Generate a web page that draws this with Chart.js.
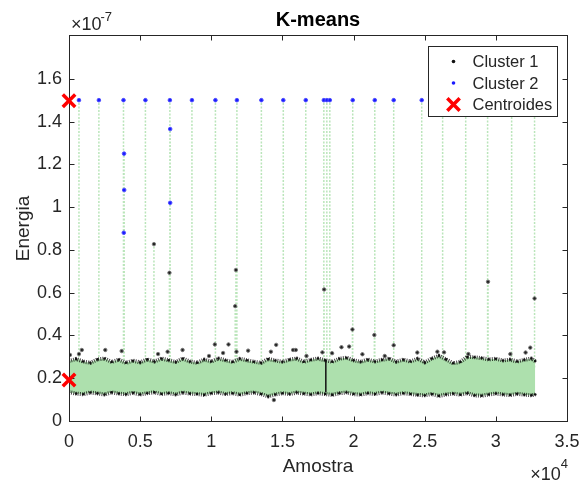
<!DOCTYPE html>
<html>
<head>
<meta charset="utf-8">
<title>K-means</title>
<script src="https://cdn.jsdelivr.net/npm/chart.js@4.4.1/dist/chart.umd.min.js"></script>
<style>
  html, body { margin: 0; padding: 0; background: #fff; }
  #wrap { width: 584px; height: 486px; }
</style>
</head>
<body>
<div id="wrap"><canvas id="c" width="584" height="486"></canvas></div>
<script>
// Energy per sample (units of 1e-7). The bulk of the signal is a dense band,
// kept here as its upper and lower envelope along the sample axis.
const bandSamples = [
  0, 500, 1000, 1500, 2000, 2500, 3000, 3500, 4000, 4500,
  5000, 5500, 6000, 6500, 7000, 7500, 8000, 8500, 9000, 9500,
  10000, 10500, 11000, 11500, 12000, 12500, 13000, 13500, 14000, 14500,
  15000, 15500, 16000, 16500, 17000, 17500, 18000, 18500, 19000, 19500,
  20000, 20500, 21000, 21500, 22000, 22500, 23000, 23500, 24000, 24500,
  25000, 25500, 26000, 26500, 27000, 27500, 28000, 28500, 29000, 29500,
  30000, 30500, 31000, 31500, 32000, 32500, 32768
];
const bandUpper = [
  0.28, 0.29, 0.278, 0.272, 0.288, 0.292, 0.276, 0.287, 0.272, 0.282,
  0.274, 0.288, 0.278, 0.292, 0.284, 0.276, 0.292, 0.278, 0.272, 0.287,
  0.278, 0.292, 0.284, 0.276, 0.291, 0.284, 0.277, 0.272, 0.29, 0.283,
  0.277, 0.287, 0.292, 0.277, 0.286, 0.292, 0.284, 0.277, 0.291, 0.296,
  0.284, 0.277, 0.287, 0.278, 0.286, 0.292, 0.277, 0.287, 0.278, 0.291,
  0.274, 0.292, 0.305, 0.288, 0.27, 0.276, 0.30, 0.298, 0.294, 0.288,
  0.291, 0.283, 0.287, 0.278, 0.286, 0.292, 0.28
];
const bandLower = [
  0.135, 0.128, 0.125, 0.133, 0.129, 0.124, 0.134, 0.128, 0.125, 0.132,
  0.124, 0.13, 0.134, 0.126, 0.13, 0.124, 0.133, 0.128, 0.126, 0.122,
  0.13, 0.133, 0.126, 0.13, 0.123, 0.13, 0.133, 0.126, 0.115, 0.124,
  0.13, 0.126, 0.133, 0.128, 0.124, 0.13, 0.126, 0.122, 0.13, 0.133,
  0.126, 0.123, 0.13, 0.126, 0.133, 0.128, 0.124, 0.13, 0.126, 0.122,
  0.12, 0.126, 0.117, 0.124, 0.128, 0.123, 0.13, 0.12, 0.118, 0.124,
  0.128, 0.124, 0.121, 0.127, 0.123, 0.12, 0.124
];

// A tight column of samples around n = 18050
const denseSample = 18050;
const denseRange = [0.135, 0.285];

// Cluster 1: isolated samples standing out of the band
const cluster1X = [
  5970, 7060, 11730, 11680, 17930, 29450, 32720, 19920, 21460, 22820,
  10250, 11210, 14560, 70, 700, 900, 2550, 3700, 6260, 6930,
  7980, 9840, 10830, 11770, 12590, 14190, 15750, 15940, 16690, 17810,
  18490, 19150, 19690, 20620, 22190, 24480, 25890, 26360, 28070, 31020,
  32090, 32420, 14400
];
const cluster1Y = [
  0.827, 0.693, 0.706, 0.537, 0.615, 0.651, 0.573, 0.428, 0.402, 0.354,
  0.358, 0.358, 0.356, 0.309, 0.313, 0.332, 0.332, 0.327, 0.313, 0.324,
  0.332, 0.304, 0.318, 0.324, 0.329, 0.324, 0.332, 0.332, 0.304, 0.321,
  0.317, 0.345, 0.348, 0.312, 0.304, 0.320, 0.324, 0.321, 0.313, 0.313,
  0.320, 0.343, 0.098
];

// Cluster 2: high-energy samples
const cluster2X = [
  700, 2100, 3830, 5370, 7090, 8640, 10290, 11800, 13520, 15060,
  16640, 17910, 18120, 18330, 19940, 21490, 22820, 24790, 26260, 27880,
  29420, 31110, 32720, 3870, 3880, 3850, 7110, 7110
];
const cluster2Y = [
  1.5, 1.5, 1.5, 1.5, 1.5, 1.5, 1.5, 1.5, 1.5, 1.5,
  1.5, 1.5, 1.5, 1.5, 1.5, 1.5, 1.5, 1.5, 1.5, 1.5,
  1.5, 1.5, 1.5, 1.25, 1.08, 0.88, 1.365, 1.02
];

// Cluster centres, placed on the first sample
const centroidX = [0, 0];
const centroidY = [0.192, 1.497];

// Axes
const xTicks = [0, 5000, 10000, 15000, 20000, 25000, 30000, 35000];
const yTicks = [0, 0.2, 0.4, 0.6, 0.8, 1.0, 1.2, 1.4, 1.6];
const legendLabels = ['Cluster 1', 'Cluster 2', 'Centroides'];

// Baseline from which the signal trace rises to each isolated sample
const traceBase = 0.25;

const FONT = "'Liberation Sans', Arial, Helvetica, sans-serif";
const INK = '#262626';
const GREEN = '#ade0ad';

const pts = (xs, ys) => xs.map((x, i) => ({ x, y: ys[i] }));

// The connecting trace jumps from the band up to every isolated sample
const spikeData = [];
cluster2X.forEach((x, i) => {
  spikeData.push({ x, y: traceBase }, { x, y: cluster2Y[i] }, { x, y: null });
});
cluster1X.forEach((x, i) => {
  if (cluster1Y[i] > 0.4) {
    spikeData.push({ x, y: traceBase }, { x, y: cluster1Y[i] }, { x, y: null });
  }
});

// Box around the plot with inward tick marks on all four sides
function drawFrame(chart) {
  const { ctx, chartArea: a, scales: { x, y } } = chart;
  const L = Math.round(a.left) + 0.5, R = Math.round(a.right) + 0.5;
  const T = Math.round(a.top) - 0.5, B = Math.round(a.bottom) + 0.5;
  ctx.save();
  ctx.strokeStyle = INK;
  ctx.lineWidth = 1;
  ctx.strokeRect(L, T, R - L, B - T);
  ctx.beginPath();
  x.ticks.forEach(t => {
    const px = Math.round(x.getPixelForValue(t.value)) + 0.5;
    ctx.moveTo(px, B); ctx.lineTo(px, B - 5);
    ctx.moveTo(px, T); ctx.lineTo(px, T + 5);
  });
  y.ticks.forEach(t => {
    const py = Math.round(y.getPixelForValue(t.value)) + 0.5;
    ctx.moveTo(L, py); ctx.lineTo(L + 5, py);
    ctx.moveTo(R, py); ctx.lineTo(R - 5, py);
  });
  ctx.stroke();
  ctx.restore();
}

const framePlugin = {
  id: 'frame',
  beforeDatasetDraw(chart, args) {
    if (args.index === 0) drawFrame(chart);
  }
};

// Inset legend box and the axis exponent labels
const overlayPlugin = {
  id: 'overlay',
  afterDraw(chart) {
    const { ctx, chartArea: a } = chart;
    ctx.save();
    // exponent labels
    ctx.fillStyle = INK;
    ctx.textBaseline = 'alphabetic';
    ctx.textAlign = 'left';
    ctx.font = `18px ${FONT}`;
    const base = '\u00d710';
    const wBase = ctx.measureText(base).width;
    ctx.fillText(base, a.left + 2, a.top - 6);
    ctx.font = `13px ${FONT}`;
    ctx.fillText('-7', a.left + 2 + wBase - 1, a.top - 15);
    ctx.font = `13px ${FONT}`;
    const wSup = ctx.measureText('4').width;
    ctx.font = `18px ${FONT}`;
    const xr = a.right - wSup - wBase + 1;
    ctx.fillText(base, xr, a.bottom + 59);
    ctx.font = `13px ${FONT}`;
    ctx.fillText('4', xr + wBase, a.bottom + 47);

    // legend
    const boxW = 129, boxH = 70;
    const bx = Math.round(a.right - 10 - boxW) + 0.5;
    const by = Math.round(a.top + 10) + 0.5;
    ctx.fillStyle = '#fff';
    ctx.fillRect(bx, by, boxW, boxH);
    ctx.strokeStyle = INK;
    ctx.lineWidth = 1;
    ctx.strokeRect(bx, by, boxW, boxH);
    const mx = bx + 25, tx = bx + 44;
    const rows = [by + 15, by + 36.5, by + 58];
    // markers
    ctx.fillStyle = '#111';
    ctx.beginPath(); ctx.arc(mx, rows[0], 1.8, 0, Math.PI * 2); ctx.fill();
    ctx.fillStyle = '#1a1aff';
    ctx.beginPath(); ctx.arc(mx, rows[1], 1.8, 0, Math.PI * 2); ctx.fill();
    ctx.strokeStyle = '#ff0000';
    ctx.lineWidth = 3.5;
    ctx.beginPath();
    ctx.moveTo(mx - 6.2, rows[2] - 6.2); ctx.lineTo(mx + 6.2, rows[2] + 6.2);
    ctx.moveTo(mx + 6.2, rows[2] - 6.2); ctx.lineTo(mx - 6.2, rows[2] + 6.2);
    ctx.stroke();
    // labels
    ctx.fillStyle = INK;
    ctx.font = `16.5px ${FONT}`;
    ctx.textBaseline = 'middle';
    legendLabels.forEach((t, i) => ctx.fillText(t, tx, rows[i] + 1));
    ctx.restore();
  }
};

new Chart(document.getElementById('c'), {
  type: 'scatter',
  data: {
    datasets: [
      {
        label: 'Centroides',
        data: pts(centroidX, centroidY),
        pointStyle: 'crossRot',
        pointRadius: 8.8,
        pointBorderWidth: 3.5,
        borderColor: '#ff0000',
        backgroundColor: '#ff0000',
        clip: false,
        order: 1
      },
      {
        label: 'Cluster 2',
        data: pts(cluster2X, cluster2Y),
        pointRadius: 1.8,
        pointBorderWidth: 1,
        backgroundColor: '#1a1aff',
        borderColor: '#5050ff',
        order: 2
      },
      {
        label: 'Cluster 1',
        data: pts(cluster1X, cluster1Y),
        pointRadius: 1.7,
        pointBorderWidth: 1,
        backgroundColor: '#222',
        borderColor: '#777',
        order: 3
      },
      {
        label: 'dense column',
        type: 'line',
        data: [{ x: denseSample, y: denseRange[0] }, { x: denseSample, y: denseRange[1] }],
        borderColor: '#111',
        borderWidth: 1.5,
        pointRadius: 0,
        order: 4
      },
      {
        label: 'band lower',
        type: 'line',
        data: pts(bandSamples, bandLower),
        borderColor: 'rgba(15,15,15,0.75)',
        borderWidth: 4,
        borderDash: [1, 1.2],
        pointRadius: 1.3,
        pointBorderWidth: 0,
        pointBackgroundColor: '#111',
        tension: 0,
        fill: false,
        order: 6
      },
      {
        label: 'band upper',
        type: 'line',
        data: pts(bandSamples, bandUpper),
        borderColor: 'rgba(15,15,15,0.75)',
        borderWidth: 4,
        borderDash: [1, 1.2],
        pointRadius: 1.3,
        pointBorderWidth: 0,
        pointBackgroundColor: '#111',
        backgroundColor: GREEN,
        tension: 0,
        fill: '-1',
        order: 7
      },
      {
        label: 'trace',
        type: 'line',
        data: spikeData,
        borderColor: 'rgba(140,212,140,0.6)',
        borderWidth: 1.5,
        borderDash: [2, 1.5],
        pointRadius: 0,
        spanGaps: false,
        fill: false,
        order: 9
      }
    ]
  },
  options: {
    responsive: false,
    animation: false,
    devicePixelRatio: 1,
    events: [],
    layout: { padding: { left: 0, right: 17, top: 0, bottom: 0 } },
    plugins: {
      legend: { display: false },
      tooltip: { enabled: false },
      title: {
        display: true,
        text: 'K-means',
        fullSize: false,
        color: '#000',
        font: { family: FONT, size: 20, weight: 'bold' },
        padding: { top: 8, bottom: 4 }
      }
    },
    scales: {
      x: {
        type: 'linear',
        min: 0,
        max: 35000,
        afterFit(s) { s.height = 65; s.paddingLeft = 0; s.paddingRight = 0; },
        afterBuildTicks(s) { s.ticks = xTicks.map(v => ({ value: v })); },
        grid: { display: false, drawTicks: false },
        border: { display: false },
        ticks: {
          padding: 10,
          color: INK,
          font: { family: FONT, size: 18 },
          maxRotation: 0,
          callback: v => String(v / 1e4)
        },
        title: {
          display: true,
          text: 'Amostra',
          color: INK,
          font: { family: FONT, size: 19 },
          padding: { top: 0, bottom: 8 }
        }
      },
      y: {
        type: 'linear',
        min: 0,
        max: 1.8,
        afterFit(s) { s.width = 69; s.paddingTop = 0; s.paddingBottom = 0; },
        afterBuildTicks(s) { s.ticks = yTicks.map(v => ({ value: v })); },
        grid: { display: false, drawTicks: false },
        border: { display: false },
        ticks: {
          padding: 7,
          color: INK,
          font: { family: FONT, size: 18 },
          callback: v => String(Number(v.toFixed(1)))
        },
        title: {
          display: true,
          text: 'Energia',
          color: INK,
          font: { family: FONT, size: 19 },
          padding: { top: 12, bottom: 0 }
        }
      }
    }
  },
  plugins: [framePlugin, overlayPlugin]
});
</script>
</body>
</html>
